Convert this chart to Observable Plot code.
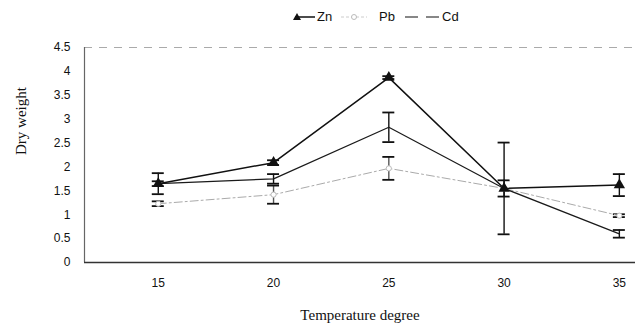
<!DOCTYPE html>
<html>
<head>
<meta charset="utf-8">
<script src="https://cdn.jsdelivr.net/npm/d3@7"></script>
<script src="https://cdn.jsdelivr.net/npm/@observablehq/plot@0.6"></script>
<style>
  body { margin: 0; background: #fff; }
  #legend { height: 30px; position: relative; font-family: "Liberation Sans", Arial, sans-serif; font-size: 13px; color: #111; }
  #legend .item { position: absolute; top: 9px; display: flex; align-items: center; }
  #legend svg { display: block; }
</style>
</head>
<body>
<div id="legend"></div>
<div id="chart"></div>
<script>
const temperatures = [15, 20, 25, 30, 35];
const zn = [1.65, 2.09, 3.87, 1.55, 1.62];
const pb = [1.23, 1.42, 1.97, 1.55, 0.98];
const cd = [1.65, 1.75, 2.83, 1.55, 0.60];
const znErr = [0.22, 0.05, 0.03, 0.17, 0.23];
const pbErr = [0.05, 0.19, 0.24, 0.00, 0.03];
const cdErr = [0.05, 0.10, 0.31, 0.96, 0.08];
const yTicks = [0, 0.5, 1, 1.5, 2, 2.5, 3, 3.5, 4, 4.5];
const xDomain = [11.8, 35.7];
const yDomain = [0, 4.5];
const seriesNames = ["Zn", "Pb", "Cd"];

const series = [
  {name: "Zn", values: zn, err: znErr},
  {name: "Pb", values: pb, err: pbErr},
  {name: "Cd", values: cd, err: cdErr}
];
const rows = series.flatMap(s => temperatures.map((t, i) => ({series: s.name, x: t, y: s.values[i], e: s.err[i]})));
const errRows = rows.filter(d => d.e > 0);
const capHalf = 0.26;
const of = name => rows.filter(d => d.series === name);

// Legend
const legend = document.getElementById("legend");
legend.innerHTML = `
  <div class="item" style="left:293px">
    <svg width="22" height="10"><line x1="2" y1="5" x2="22" y2="5" stroke="#111" stroke-width="1.5"/><path d="M4,1 L8,8 L0,8 Z" fill="#111"/></svg>
    <span style="margin-left:2px">${seriesNames[0]}</span>
  </div>
  <div class="item" style="left:341px">
    <svg width="26" height="10"><line x1="0" y1="5" x2="26" y2="5" stroke="#ccc" stroke-width="1" stroke-dasharray="3,2"/><circle cx="13" cy="5" r="2.5" fill="#fff" stroke="#bbb"/></svg>
    <span style="margin-left:12px">${seriesNames[1]}</span>
  </div>
  <div class="item" style="left:405px">
    <svg width="36" height="10"><line x1="0" y1="5" x2="36" y2="5" stroke="#111" stroke-width="1.2" stroke-dasharray="13,8"/></svg>
    <span style="margin-left:1px">${seriesNames[2]}</span>
  </div>`;

const plot = Plot.plot({
  width: 635,
  height: 295,
  marginTop: 17,
  marginBottom: 63,
  marginLeft: 84,
  marginRight: 0,
  style: {fontFamily: "'Liberation Sans', Arial, sans-serif", fontSize: "12px", color: "#111", background: "#fff"},
  x: {domain: xDomain},
  y: {domain: yDomain},
  marks: [
    Plot.ruleY([yDomain[1]], {stroke: "#aaa", strokeWidth: 1, strokeDasharray: "8,7"}),
    Plot.ruleX([xDomain[0]], {stroke: "#666", strokeWidth: 1.2}),
    Plot.ruleY([0], {stroke: "#333", strokeWidth: 1.5}),
    Plot.axisX({ticks: temperatures, tickSize: 0, tickPadding: 16, tickFormat: d => String(d), label: null, fontSize: 12}),
    Plot.axisY({ticks: yTicks, tickSize: 0, tickPadding: 14, tickFormat: d => String(d), label: null, fontSize: 12}),
    // error bars
    Plot.ruleX(errRows, {x: "x", y1: d => d.y - d.e, y2: d => d.y + d.e, stroke: d => d.series === "Pb" ? "#555" : "#111", strokeWidth: 1.4}),
    Plot.ruleY(errRows, {y: d => d.y + d.e, x1: d => d.x - capHalf, x2: d => d.x + capHalf, stroke: "#111", strokeWidth: 1.8}),
    Plot.ruleY(errRows, {y: d => d.y - d.e, x1: d => d.x - capHalf, x2: d => d.x + capHalf, stroke: "#111", strokeWidth: 1.8}),
    // lines
    Plot.line(of("Pb"), {x: "x", y: "y", stroke: "#aaa", strokeWidth: 1, strokeDasharray: "8,3,2,3"}),
    Plot.line(of("Cd"), {x: "x", y: "y", stroke: "#1a1a1a", strokeWidth: 1.2}),
    Plot.line(of("Zn"), {x: "x", y: "y", stroke: "#111", strokeWidth: 1.5}),
    // markers
    Plot.dot(of("Pb"), {x: "x", y: "y", r: 2.6, stroke: "#bbb", fill: "#fff", strokeWidth: 1}),
    Plot.dot(of("Zn"), {x: "x", y: "y", symbol: "triangle", r: 4.2, fill: "#111", stroke: "none"}),
    // titles
    Plot.text(["Temperature degree"], {frameAnchor: "bottom", dy: 57, text: d => d, fontFamily: "'Liberation Serif', 'Times New Roman', serif", fontSize: 15, fill: "#111"}),
    Plot.text(["Dry weight"], {frameAnchor: "left", dx: -63, rotate: -90, text: d => d, fontFamily: "'Liberation Serif', 'Times New Roman', serif", fontSize: 15, fill: "#111"})
  ]
});
document.getElementById("chart").appendChild(plot);
</script>
</body>
</html>
